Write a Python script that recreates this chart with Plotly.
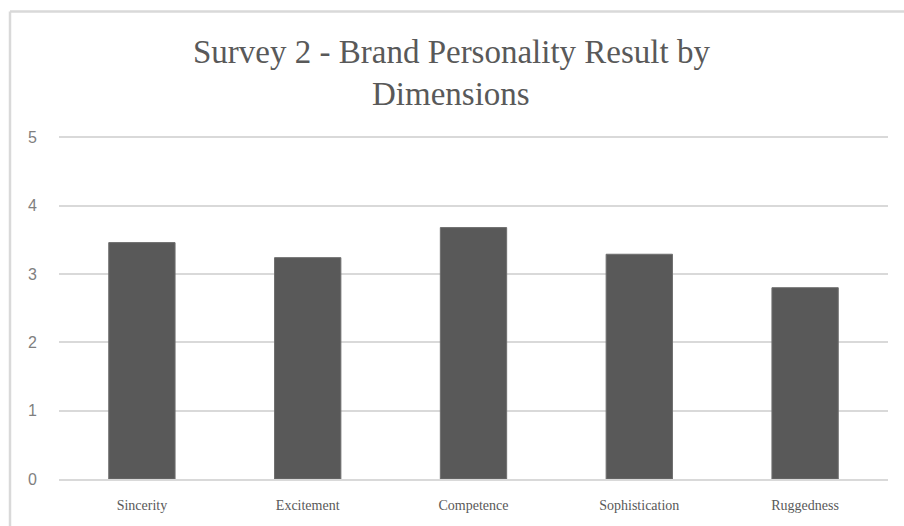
import plotly.graph_objects as go

# Brand personality survey results, mean score per dimension
dimensions = ["Sincerity", "Excitement", "Competence", "Sophistication", "Ruggedness"]
scores = [3.46, 3.24, 3.68, 3.29, 2.80]
y_ticks = [0, 1, 2, 3, 4, 5]

W, H = 904, 526
L, R, T, B = 59, 16, 134, 47
plot_w = W - L - R
plot_h = H - T - B
y_top = 5.05

bar_color = "#595959"
grid_color = "#d9d9d9"
text_color = "#595959"
tick_color = "#7f7f7f"

fig = go.Figure(
    go.Bar(
        x=dimensions,
        y=scores,
        marker=dict(color=bar_color, line=dict(color="#6e6e6e", width=1)),
        width=0.4,
        hoverinfo="x+y",
    )
)


def px_to_paper_x(px):
    return (px - L) / plot_w


def px_to_paper_y(py):
    return (H - B - py) / plot_h


# outer chart frame: top and left edges (the rest runs off the page)
frame = dict(color=grid_color, width=2.5)
fig.add_shape(
    type="line", xref="paper", yref="paper",
    x0=px_to_paper_x(10), x1=px_to_paper_x(W + 5),
    y0=px_to_paper_y(11.5), y1=px_to_paper_y(11.5),
    line=frame, layer="below",
)
fig.add_shape(
    type="line", xref="paper", yref="paper",
    x0=px_to_paper_x(10), x1=px_to_paper_x(10),
    y0=px_to_paper_y(11.5), y1=px_to_paper_y(H + 5),
    line=frame, layer="below",
)

title_font = dict(family="Liberation Serif, Times New Roman, serif", size=33, color=text_color)
fig.add_annotation(
    text="Survey 2 - Brand Personality Result by",
    xref="paper", yref="paper",
    x=px_to_paper_x(451), y=px_to_paper_y(52),
    xanchor="center", yanchor="middle",
    showarrow=False, font=title_font,
)
fig.add_annotation(
    text="Dimensions",
    xref="paper", yref="paper",
    x=px_to_paper_x(451), y=px_to_paper_y(94),
    xanchor="center", yanchor="middle",
    showarrow=False, font=title_font,
)

fig.update_layout(
    width=W, height=H,
    margin=dict(l=L, r=R, t=T, b=B),
    paper_bgcolor="white",
    plot_bgcolor="white",
    showlegend=False,
    xaxis=dict(
        showgrid=False,
        showline=True,
        linecolor=grid_color,
        linewidth=1.5,
        ticks="",
        tickfont=dict(family="Liberation Serif, Times New Roman, serif", size=14, color=text_color),
        ticklabelstandoff=12,
    ),
    yaxis=dict(
        range=[0, y_top],
        tickvals=y_ticks,
        showgrid=True,
        gridcolor=grid_color,
        gridwidth=1.5,
        zeroline=False,
        showline=False,
        ticks="",
        tickfont=dict(family="Liberation Sans, Arial, sans-serif", size=16, color=tick_color),
        ticklabelstandoff=21,
    ),
)

fig.write_html("out.html")
